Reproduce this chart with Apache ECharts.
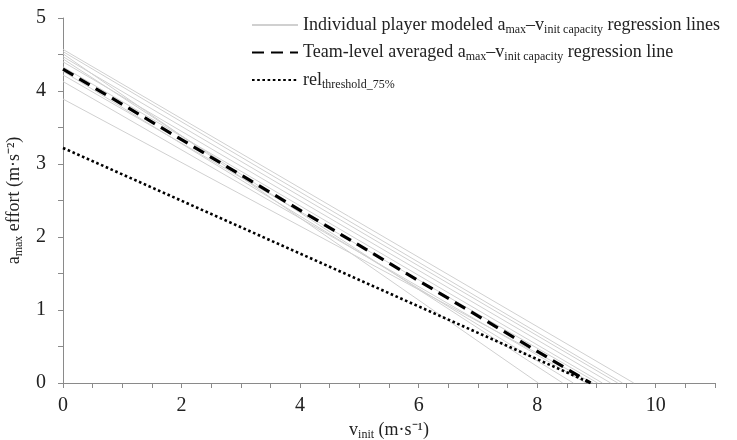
<!DOCTYPE html>
<html>
<head>
<meta charset="utf-8">
<script src="https://cdn.jsdelivr.net/npm/echarts@6/dist/echarts.min.js"></script>
<style>html,body{margin:0;padding:0;background:#fff}#chart{width:737px;height:440px}</style>
</head>
<body>
<div id="chart"></div>
<script>
// y-intercepts (a_max at v=0) and x-intercepts (v where a=0) for each player line
const playerIntercepts = [4.57, 4.54, 4.51, 4.47, 4.44, 4.40, 4.33, 4.27, 4.22, 4.13, 3.89];
const playerVmax = [9.63, 9.44, 8.02, 9.36, 8.43, 9.24, 9.10, 8.61, 9.02, 8.82, 8.94];
const teamLine = [[0, 4.30], [8.90, 0]];
const relLine = [[0, 3.22], [8.90, 0]];
const xTicks = [0, 2, 4, 6, 8, 10];
const yTicks = [0, 1, 2, 3, 4, 5];

const FONT = 'Liberation Serif';
const SUB = { fontSize: 12, fontFamily: FONT, color: '#222', padding: [9, 0, 0, 0] };

const series = [];
playerIntercepts.forEach((a, i) => {
  series.push({
    name: 'indiv', type: 'line', symbol: 'none', silent: true,
    lineStyle: { color: '#d0d0d0', width: 1 },
    data: [[0, a], [playerVmax[i], 0]]
  });
});
series.push({
  name: 'team', type: 'line', symbol: 'none',
  lineStyle: { color: '#000', width: 3.2, type: [12, 7] },
  data: teamLine, z: 5
});
series.push({
  name: 'rel', type: 'line', symbol: 'none',
  lineStyle: { color: '#000', width: 2.6, type: [2.6, 2.6] },
  data: relLine, z: 5
});

const legendText = {
  indiv: 'Individual player modeled a{s|max}–v{s|init capacity} regression lines',
  team: 'Team-level averaged a{s|max}–v{s|init capacity} regression line',
  rel: 'rel{s|threshold_75%}'
};

const chart = echarts.init(document.getElementById('chart'), null, { renderer: 'canvas' });
chart.setOption({
  animation: false,
  grid: { left: 63, right: 22, top: 18, bottom: 57, outerBoundsMode: 'none' },
  legend: {
    orient: 'vertical', left: 246, top: 11,
    itemWidth: 46, itemHeight: 14, itemGap: 8,
    data: ['indiv', 'team', 'rel'],
    itemStyle: { color: 'rgba(0,0,0,0)', borderColor: 'rgba(0,0,0,0)', borderWidth: 0 },
    formatter: n => legendText[n],
    textStyle: { fontSize: 18, fontFamily: FONT, color: '#222', rich: { s: SUB } }
  },
  xAxis: {
    type: 'value', min: 0, max: 11, interval: 0.5,
    name: 'v{s|init} (m·s⁻¹)', nameLocation: 'middle', nameGap: 34,
    nameTextStyle: { fontSize: 18, fontFamily: FONT, color: '#222', rich: { s: SUB } },
    axisLine: { lineStyle: { color: '#8a8a8a', width: 1 } },
    axisTick: { length: 5, lineStyle: { color: '#8a8a8a' } },
    axisLabel: {
      fontSize: 20, fontFamily: FONT, color: '#222', margin: 13,
      formatter: v => xTicks.includes(v) ? String(v) : ''
    },
    splitLine: { show: false }
  },
  yAxis: {
    type: 'value', min: 0, max: 5, interval: 0.5,
    name: 'a{s|max} effort (m·s⁻²)', nameLocation: 'middle', nameGap: 33, nameRotate: 90,
    nameTextStyle: { fontSize: 18, fontFamily: FONT, color: '#222', rich: { s: SUB } },
    axisLine: { show: true, lineStyle: { color: '#8a8a8a', width: 1 } },
    axisTick: { show: true, length: 5, lineStyle: { color: '#8a8a8a' } },
    axisLabel: {
      fontSize: 20, fontFamily: FONT, color: '#222', margin: 17,
      formatter: v => yTicks.includes(v) ? String(v) : ''
    },
    splitLine: { show: false }
  },
  series: series
});
</script>
</body>
</html>
